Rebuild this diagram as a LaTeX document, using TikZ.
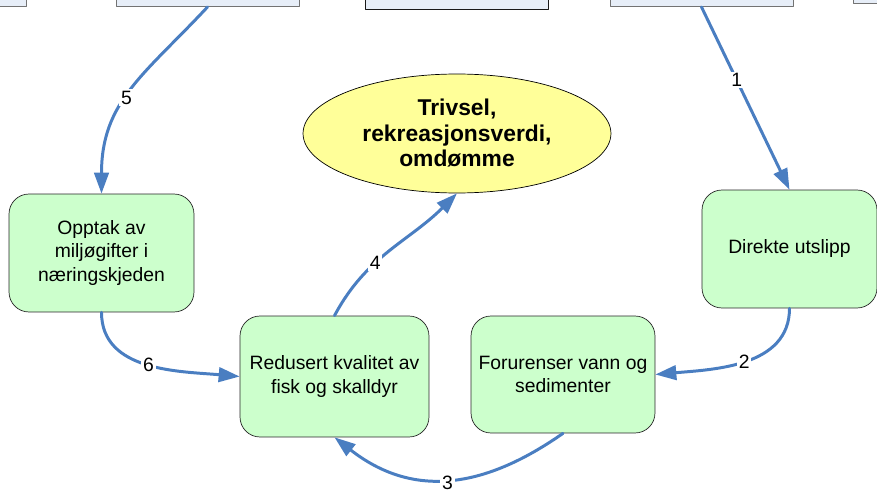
\documentclass[tikz,border=0pt]{standalone}
\usepackage{fontspec}
\setmainfont{Liberation Sans}
\usetikzlibrary{shapes,arrows,arrows.meta,shapes.misc,shapes.geometric}
\usetikzlibrary{positioning}

\definecolor{pilblaa}{RGB}{74,126,193}
\definecolor{gronn}{RGB}{204,255,204}
\definecolor{gul}{RGB}{255,255,153}
\definecolor{lysblaa}{RGB}{231,238,248}

\tikzset{
	boks/.style={draw=black!85,fill=gronn,rounded corners=0.4cm,align=center,
		font=\fontsize{11}{13.5}\selectfont,minimum width=3.7cm,minimum height=2.36cm,inner sep=2pt},
	toppboks/.style={draw=black!55,fill=lysblaa,minimum width=3.66cm,minimum height=1cm,anchor=south},
	pil/.style={draw=pilblaa,line width=1.7pt,->},
	tall/.style={fill=white,inner sep=1pt,font=\fontsize{11}{12}\selectfont}
}

\begin{document}
\begin{tikzpicture}[line cap=round,line join=round,>={Triangle[length=0.42cm,width=0.29cm]},
		x=0.02cm,y=-0.02cm]
		\useasboundingbox (0,0) rectangle (877,490);
		\clip (0,0) rectangle (877,490);
		% boksene oppe, kuttet av kanten
		\node[toppboks,anchor=south east] (toppA) at (27,7) {};
		\node[toppboks] (toppB) at (207.5,7) {};
		\node[toppboks,draw=black!90] (toppC) at (457,10) {};
		\node[toppboks] (toppD) at (701.5,7) {};
		\node[toppboks,anchor=south west] (toppE) at (853,4) {};
		% ellipsen
		\node[ellipse,draw=black,fill=gul,minimum width=6.16cm,minimum height=2.38cm,inner sep=0pt,
			align=center,font=\fontsize{13}{14.5}\selectfont\bfseries] (trivsel) at (457,133.5)
			{Trivsel,\\rekreasjonsverdi,\\omdømme};
		% de fire boksene
		\node[boks] (opptak) at (101.5,253) {Opptak av\\miljøgifter i\\næringskjeden};
		\node[boks,minimum width=3.78cm,minimum height=2.42cm] (redusert) at (334.5,376.5)
			{Redusert kvalitet av\\fisk og skalldyr};
		\node[boks,minimum width=3.68cm,minimum height=2.34cm] (forurenser) at (563,374.5)
			{Forurenser vann og\\sedimenter};
		\node[boks,minimum width=3.5cm] (direkte) at (789.5,249) {Direkte utslipp};
		% pilene
		\draw[pil] (toppD.south) -- node[tall,pos=0.4] (n1) {1} (direkte.north); %1
		\draw[pil] (direkte.south) to[out=-90,in=5] node[tall] (n2) {2} (forurenser.east); %2
		\draw[pil] (forurenser.south) to[out=-145,in=-38,looseness=1.1] node[tall,pos=0.5,yshift=-2pt] (n3) {3} (redusert.south); %3
		\draw[pil] (redusert.north) to[out=62,in=-135] node[tall,pos=0.38] (n4) {4} (trivsel.south); %4
		\draw[pil] (toppB.south) to[out=-133,in=90,looseness=1.1] node[tall,pos=0.54] (n5) {5} (opptak.north); %5
		\draw[pil] (opptak.south) to[out=-90,in=175] node[tall] (n6) {6} (redusert.west); %6
\end{tikzpicture}
\end{document}
